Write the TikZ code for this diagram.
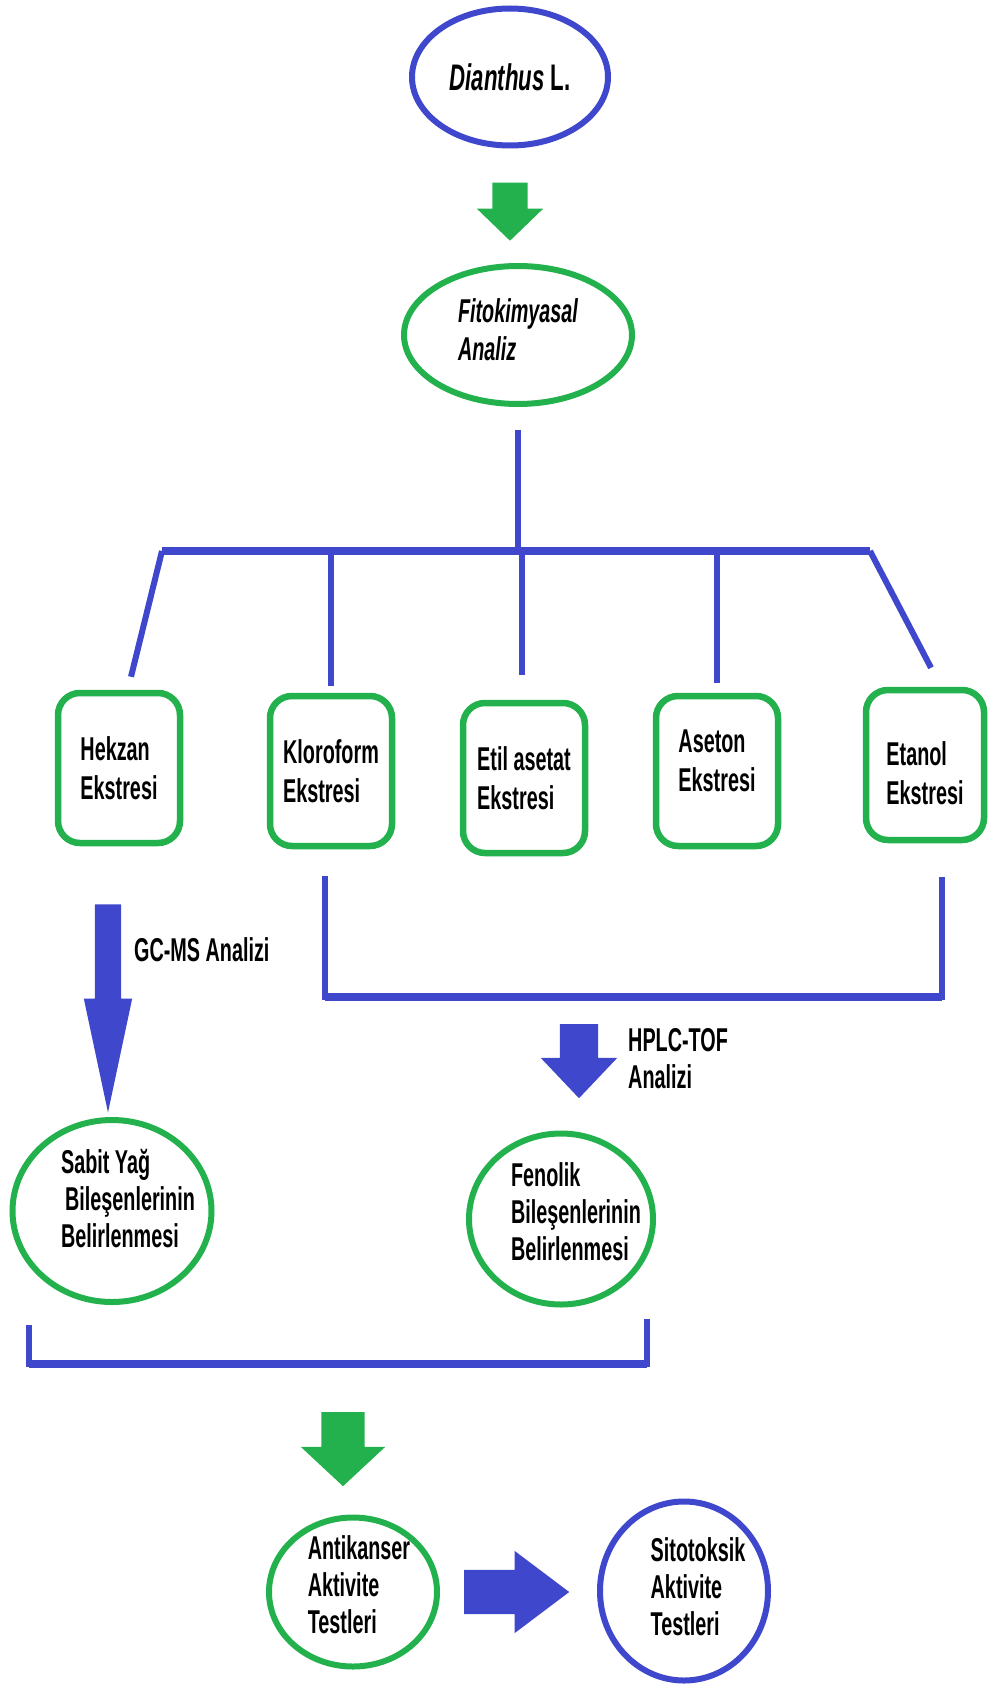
\documentclass[tikz,border=0pt]{standalone}
\usepackage{fontspec}
\setmainfont{Liberation Sans}[FakeStretch=0.6]
\usetikzlibrary{shapes.geometric,shapes.arrows}
\definecolor{pblue}{HTML}{3F48CC}
\definecolor{pgreen}{HTML}{22B14C}

\begin{document}
\begin{tikzpicture}[x=1pt,y=-1pt,
    every node/.style={font=\fontsize{33}{37}\selectfont\bfseries, inner sep=0pt},
    oval/.style={ellipse, draw=#1, line width=6pt, align=left},
    extbox/.style={draw=pgreen, line width=6.5pt, rounded corners=22pt, align=left,
        minimum width=122pt, minimum height=150pt, font=\fontsize{33}{39}\selectfont\bfseries},
    boxtxt/.style={align=left, font=\fontsize{33}{39}\selectfont\bfseries},
    tree/.style={draw=pblue, line width=6pt},
    bar/.style={draw=pblue, line width=8pt},
    blockdown/.style={single arrow, fill=#1, inner xsep=0pt, rotate=-90, anchor=tail}]
                    \useasboundingbox (0,0) rectangle (995,1688);
                    \node[oval=pblue, minimum width=196pt, minimum height=137pt, font=\fontsize{37}{40}\selectfont\bfseries] (dia) at (510,77) {\itshape Dianthus\/ \upshape L.};
                    \node[oval=pgreen, minimum width=228pt, minimum height=138pt,
                        label={[align=left, yshift=5pt, font=\fontsize{33}{38}\selectfont\bfseries\itshape]center:Fitokimyasal\\Analiz}] (fito) at (518,335) {};
                    \node[blockdown=pgreen, minimum height=58pt, inner ysep=17.5pt, single arrow head extend=15.5pt, single arrow tip angle=92] (ar1) at ([yshift=-34pt]dia.south) {};

                    \node[extbox] (hek) at (119,768) {Hekzan\\Ekstresi};
                    \node[extbox] (klo) at (331,771) {Kloroform\\Ekstresi};
                    \node[extbox] (eti) at (524,778) {Etil asetat\\Ekstresi};
                    \node[extbox, label={[boxtxt, yshift=10pt]center:Aseton\\Ekstresi}] (ase) at (717,771) {};
                    \node[extbox, minimum width=118pt, label={[boxtxt, yshift=-8pt]center:Etanol\\Ekstresi}] (eta) at (925,765) {};

                    \coordinate (barL) at (162,551);
                    \coordinate (barR) at (870,551);
                    \draw[tree] ([yshift=-23pt]fito.south) -- (fito.south |- barL);
                    \draw[bar] (barL) -- (barR);
                    \draw[tree] (barL) -- ([shift={(12pt,13pt)}]hek.north);
                    \draw[tree] (klo.north |- barL) -- ([yshift=7pt]klo.north);
                    \draw[tree] ([xshift=-2pt]eti.north |- barL) -- ([shift={(-2pt,25pt)}]eti.north);
                    \draw[tree] (ase.north |- barL) -- ([yshift=10pt]ase.north);
                    \draw[tree] (barR) -- ([shift={(6pt,19pt)}]eta.north);

                    \coordinate (kl) at ([shift={(-6pt,-27pt)}]klo.south);
                    \coordinate (er) at ([shift={(17pt,-34pt)}]eta.south);
                    \coordinate (kb) at (0,997);
                    \draw[tree] (kl) -- (kl |- kb) -- (er |- kb) -- (er);
                    \draw[bar] (kl |- kb) -- (er |- kb);

                    \node[blockdown=pblue, minimum height=208pt, inner ysep=13pt, single arrow head extend=11pt, single arrow tip angle=24] (ar2) at ([shift={(-11pt,-58pt)}]hek.south) {};
                    \node[anchor=base west] (gcms) at (134,961) {GC-MS Analizi};
                    \node[blockdown=pblue, minimum height=74pt, inner ysep=19pt, single arrow head extend=19pt, single arrow tip angle=87] (ar3) at (579,1024) {};
                    \node[anchor=north west, align=left] (hplc) at (628,1028) {HPLC-TOF\\Analizi};

                    \node[oval=pgreen, minimum width=199pt, minimum height=182pt,
                        label={[align=left, xshift=16pt, yshift=12pt]center:Sabit Yağ\\\hspace*{4pt}Bileşenlerinin\\Belirlenmesi}] (sab) at (112,1211) {};
                    \node[oval=pgreen, minimum width=184pt, minimum height=171pt,
                        label={[align=left, xshift=15pt, yshift=7pt]center:Fenolik\\Bileşenlerinin\\Belirlenmesi}] (fen) at (561,1219) {};

                    \coordinate (sl) at ([shift={(-83pt,-20pt)}]sab.south);
                    \coordinate (fr) at ([shift={(86pt,-11pt)}]fen.south);
                    \coordinate (bb) at (0,1364);
                    \draw[tree] (sl) -- (sl |- bb) -- (fr |- bb) -- (fr);
                    \draw[bar] (sl |- bb) -- (fr |- bb);

                    \node[blockdown=pgreen, minimum height=74pt, inner ysep=21.5pt, single arrow head extend=20.5pt, single arrow tip angle=94] (ar4) at (343,1412) {};
                    \node[oval=pgreen, minimum width=168pt, minimum height=149pt,
                        label={[align=left, xshift=6pt, yshift=7pt]center:Antikanser\\Aktivite\\Testleri}] (ant) at (353,1592) {};
                    \node[oval=pblue, minimum width=168pt, minimum height=179pt,
                        label={[align=left, xshift=14pt, yshift=4pt]center:Sitotoksik\\Aktivite\\Testleri}] (sito) at (684,1591) {};
                    \node[single arrow, fill=pblue, anchor=tail, inner xsep=0pt, inner ysep=22pt, single arrow head extend=19pt, single arrow tip angle=74, minimum height=105pt] (ar5) at ([xshift=24pt]ant.east) {};
                \end{tikzpicture}
\end{document}
